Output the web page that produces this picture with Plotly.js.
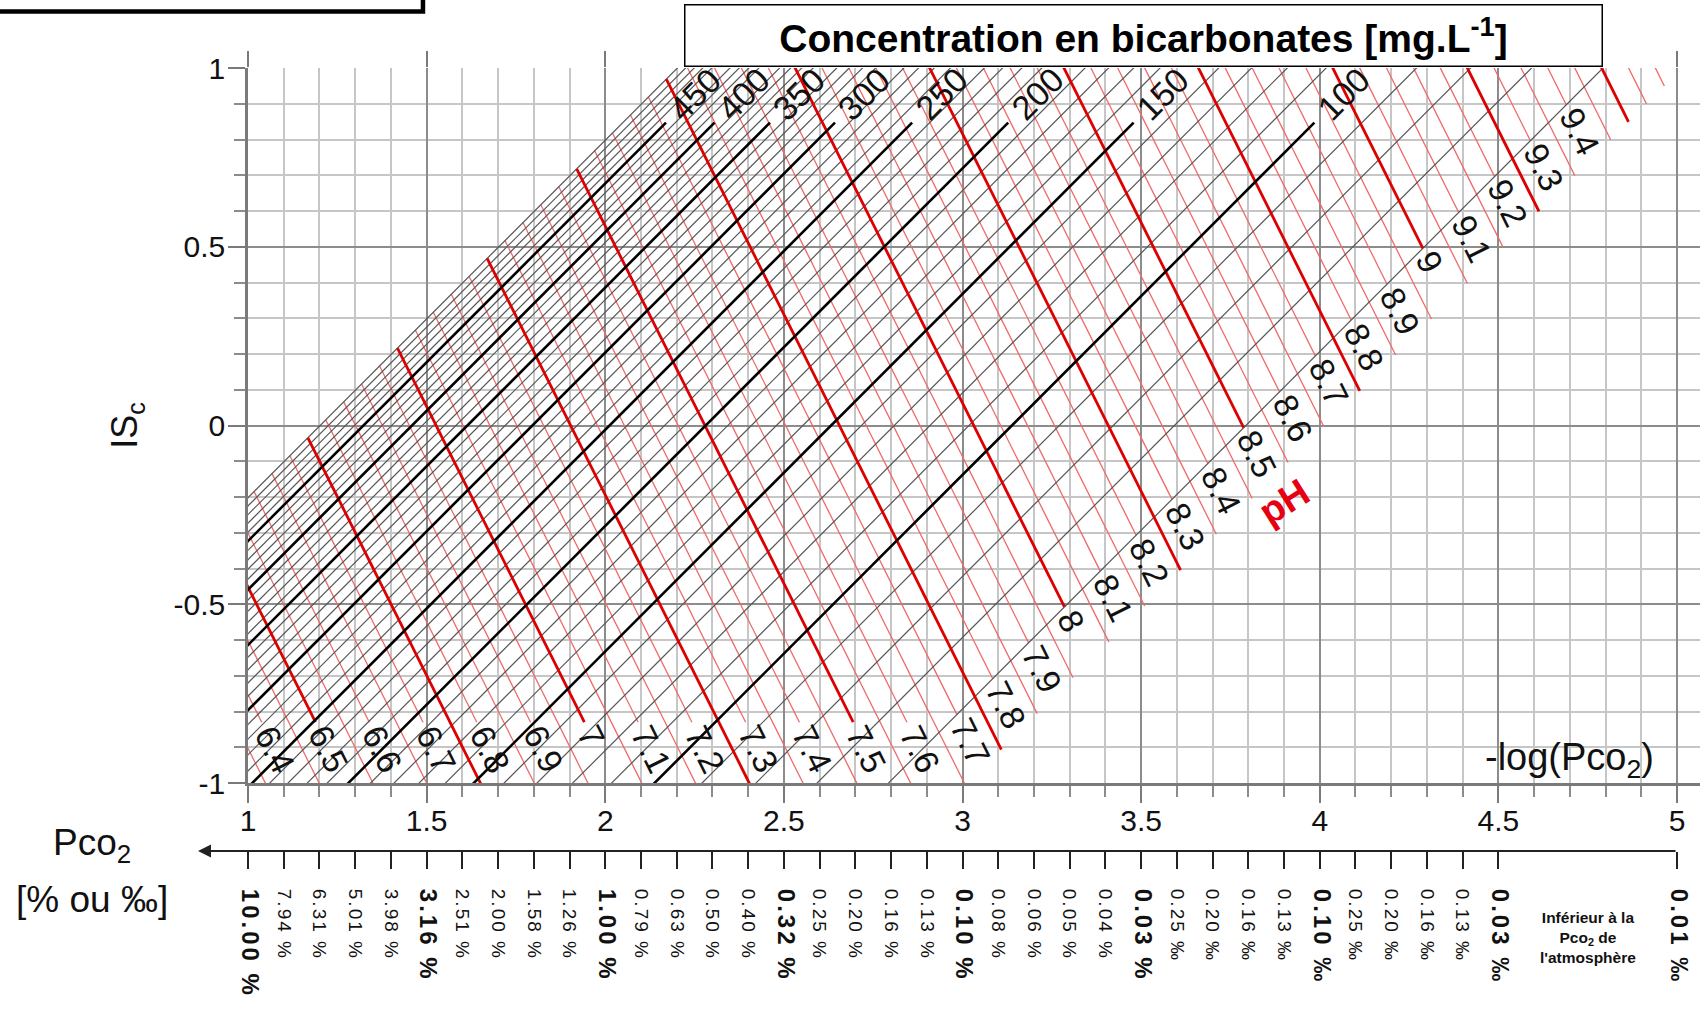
<!DOCTYPE html>
<html>
<head>
<meta charset="utf-8">
<script src="https://cdn.plot.ly/plotly-3.0.1.min.js"></script>
<style>html,body{margin:0;padding:0;background:#fff;}</style>
</head>
<body>
<div id="chart" style="width:1700px;height:1010px;"></div>
<script>
// ---------------- DATA ----------------
// Bicarbonate isolines [mg/L]: ISc = -log(Pco2) + intercept
const hco3Conc = [60,70,80,90,100,110,120,130,140,150,160,170,180,190,200,210,220,230,240,250,
  260,270,280,290,300,310,320,330,340,350,360,370,380,390,400,410,420,430,440,450,460,470,480,490,500];
const hco3Intercept = [-3.793,-3.593,-3.422,-3.271,-3.138,-3.018,-2.909,-2.809,-2.717,-2.632,
  -2.553,-2.479,-2.409,-2.343,-2.281,-2.222,-2.166,-2.112,-2.061,-2.012,
  -1.966,-1.921,-1.877,-1.836,-1.796,-1.757,-1.720,-1.683,-1.648,-1.614,
  -1.582,-1.550,-1.519,-1.488,-1.459,-1.430,-1.402,-1.375,-1.349,-1.323,
  -1.298,-1.273,-1.249,-1.225,-1.202];
const hco3Slope = 1;
const hco3Thick = [100,150,200,250,300,350,400,450];
const hco3LabelText = ['100','150','200','250','300','350','400','450'];
const hco3ThickEndISc = 0.847;          // ISc where the bold isolines stop (labels follow)

// pH isolines: ISc = -2 * (-log Pco2) + intercept
const pHValues = [6.30,6.35,6.40,6.45,6.50,6.55,6.60,6.65,6.70,6.75,6.80,6.85,6.90,6.95,
  7.00,7.05,7.10,7.15,7.20,7.25,7.30,7.35,7.40,7.45,7.50,7.55,7.60,7.65,7.70,7.75,7.80,7.85,7.90,7.95,
  8.00,8.05,8.10,8.15,8.20,8.25,8.30,8.35,8.40,8.45,8.50,8.55,8.60,8.65,8.70,8.75,8.80,8.85,8.90,8.95,
  9.00,9.05,9.10,9.15,9.20,9.25,9.30,9.35,9.40,9.45,9.50,9.55,9.60];
const pHIntercept = [0.946,1.097,1.247,1.398,1.548,1.699,1.849,2.000,2.150,2.301,2.451,2.602,2.752,2.903,
  3.053,3.204,3.354,3.505,3.655,3.806,3.956,4.107,4.257,4.408,4.558,4.709,4.859,5.010,5.160,5.311,5.461,5.612,5.762,5.913,
  6.063,6.214,6.364,6.515,6.665,6.816,6.966,7.117,7.267,7.418,7.568,7.719,7.869,8.020,8.170,8.321,8.471,8.622,8.772,8.923,
  9.073,9.224,9.374,9.525,9.675,9.826,9.976,10.127,10.277,10.428,10.578,10.729,10.879];
const pHSlope = -2;
const pHThick = [6.5,6.75,7.0,7.25,7.5,7.75,8.0,8.25,8.5,8.75,9.0,9.25,9.5];
const pHLabelValues = [6.4,6.5,6.6,6.7,6.8,6.9,7.0,7.1,7.2,7.3,7.4,7.5,7.6,7.7,7.8,7.9,
  8.0,8.1,8.2,8.3,8.4,8.5,8.6,8.7,8.8,8.9,9.0,9.1,9.2,9.3,9.4];
const pHLabelText = ['6.4','6.5','6.6','6.7','6.8','6.9','7','7.1','7.2','7.3','7.4','7.5','7.6','7.7','7.8','7.9',
  '8','8.1','8.2','8.3','8.4','8.5','8.6','8.7','8.8','8.9','9','9.1','9.2','9.3','9.4'];
const pHStartIntercept = -1.202;   // pH lines start on the 500 mg/L isoline
const pHLabelIntercept = -3.793;   // labelled pH lines stop on the 60 mg/L isoline
const pHEndIntercept = -4.015;     // other pH lines stop on this isoline
const pHBottomLabelISc = -0.83;    // labelled pH lines stop here at the bottom

// Main axes tick labels
const yTickVals = [-1, -0.5, 0, 0.5, 1];
const yTickText = ['-1', '-0.5', '0', '0.5', '1'];

// Pco2 scale under the chart
const pco2TickVals = [1.0,1.1,1.2,1.3,1.4,1.5,1.6,1.7,1.8,1.9,2.0,2.1,2.2,2.3,2.4,2.5,2.6,2.7,2.8,2.9,
  3.0,3.1,3.2,3.3,3.4,3.5,3.6,3.7,3.8,3.9,4.0,4.1,4.2,4.3,4.4,4.5,5.0];
const pco2TickText = ['10.00 %','7.94 %','6.31 %','5.01 %','3.98 %','3.16 %','2.51 %','2.00 %','1.58 %','1.26 %',
  '1.00 %','0.79 %','0.63 %','0.50 %','0.40 %','0.32 %','0.25 %','0.20 %','0.16 %','0.13 %',
  '0.10 %','0.08 %','0.06 %','0.05 %','0.04 %','0.03 %','0.25 ‰','0.20 ‰','0.16 ‰','0.13 ‰',
  '0.10 ‰','0.25 ‰','0.20 ‰','0.16 ‰','0.13 ‰','0.03 ‰','0.01 ‰'];
const pco2Bold = [1.0,1.5,2.0,2.5,3.0,3.5,4.0,4.5,5.0];

// ---------------- BUILD ----------------
const FONT = 'Liberation Sans, Arial, sans-serif';
const PX_PER_UNIT = 357.25;
const near = (arr, v) => arr.findIndex(a => Math.abs(a - v) < 1e-6);

const thinBlack = {x: [], y: []}, thickBlack = {x: [], y: []};
const thinRed = {x: [], y: []}, thickRed = {x: [], y: []};
const annotations = [];

hco3Conc.forEach((c, i) => {
  const b = hco3Intercept[i];
  const k = near(hco3Thick, c);
  const yTop = k >= 0 ? hco3ThickEndISc : 1.3;
  const yBot = -1.3;
  const t = k >= 0 ? thickBlack : thinBlack;
  t.x.push((yBot - b) / hco3Slope, (yTop - b) / hco3Slope, null);
  t.y.push(yBot, yTop, null);
  if (k >= 0) {
    const xe = (yTop - b) / hco3Slope;
    const off = 41 / PX_PER_UNIT / Math.SQRT2;
    annotations.push({x: xe + off, y: yTop + off, xref: 'x', yref: 'y', text: hco3LabelText[k],
      showarrow: false, textangle: -45, xanchor: 'center', yanchor: 'middle',
      font: {family: FONT, size: 34, color: '#111'}});
  }
});

const S = hco3Slope - pHSlope;
const dn = Math.sqrt(1 + pHSlope * pHSlope);
const ux = 1 / dn, uy = pHSlope / dn;
const pHAngle = Math.atan(-pHSlope) * 180 / Math.PI;

pHValues.forEach((p, i) => {
  const d = pHIntercept[i];
  const x0 = (d - pHStartIntercept) / S, y0 = hco3Slope * x0 + pHStartIntercept;
  const li = near(pHLabelValues, p);
  let x1, y1;
  if (li >= 0) {
    x1 = (d - pHLabelIntercept) / S; y1 = hco3Slope * x1 + pHLabelIntercept;
    if (y1 < pHBottomLabelISc) { y1 = pHBottomLabelISc; x1 = (y1 - d) / pHSlope; }
    const txt = pHLabelText[li];
    const fs = 34;
    let w = 0; for (const ch of txt) w += (ch === '.' ? 0.278 : 0.556) * fs;
    const off = (w / 2 + 6) / PX_PER_UNIT;
    annotations.push({x: x1 + ux * off, y: y1 + uy * off, xref: 'x', yref: 'y', text: txt,
      showarrow: false, textangle: pHAngle, xanchor: 'center', yanchor: 'middle',
      font: {family: FONT, size: fs, color: '#111'}});
  } else {
    x1 = (d - pHEndIntercept) / S; y1 = hco3Slope * x1 + pHEndIntercept;
  }
  const t = near(pHThick, p) >= 0 ? thickRed : thinRed;
  t.x.push(x0, x1, null); t.y.push(y0, y1, null);
});

const lineTrace = (o, color, width) => ({x: o.x, y: o.y, type: 'scatter', mode: 'lines',
  line: {color: color, width: width}, hoverinfo: 'skip', showlegend: false, connectgaps: false});

const data = [
  lineTrace(thinRed, '#ee6a6a', 1.3),
  lineTrace(thinBlack, '#555555', 1.2),
  lineTrace(thickRed, '#dc0000', 2.8),
  lineTrace(thickBlack, '#000000', 2.6),
  {x: [1, 5], y: [0, 0], xaxis: 'x2', yaxis: 'y', type: 'scatter', mode: 'markers',
    marker: {opacity: 0}, hoverinfo: 'skip', showlegend: false},
  {x: [1, 5], y: [0, 0], xaxis: 'x3', yaxis: 'y', type: 'scatter', mode: 'markers',
    marker: {opacity: 0}, hoverinfo: 'skip', showlegend: false}
];

const pco2Text = pco2TickText.map((t, i) => near(pco2Bold, pco2TickVals[i]) >= 0
  ? '<b><span style="font-size:24px;letter-spacing:3px">' + t + '</span></b>'
  : '<span style="font-size:19px;letter-spacing:2px">' + t + '</span>');

// labels / annotations
annotations.push(
  {xref: 'paper', yref: 'paper', x: 0.6164, y: 1.0409, xanchor: 'center', yanchor: 'middle',
    text: '<b>Concentration en bicarbonates [mg.L<sup>-1</sup>]</b>', showarrow: false,
    width: 912, height: 56, bgcolor: '#fff', bordercolor: '#000', borderwidth: 1.5, borderpad: 2,
    font: {family: FONT, size: 39, color: '#000'}},
  {xref: 'x', yref: 'y', x: 3.90, y: -0.215, text: '<b>pH</b>', showarrow: false, textangle: -32,
    xanchor: 'center', yanchor: 'middle',
    font: {family: FONT, size: 38, color: '#e60012'}},
  {xref: 'x', yref: 'y', x: 4.70, y: -0.935, text: '-log(Pco<sub>2</sub>)', showarrow: false,
    xanchor: 'center', yanchor: 'middle',
    font: {family: FONT, size: 38, color: '#111'}},
  {xref: 'paper', yref: 'paper', x: -0.1074, y: 0.008, text: 'Pco<sub>2</sub>', showarrow: false,
    xanchor: 'center', yanchor: 'middle',
    font: {family: FONT, size: 37, color: '#111'}},
  {xref: 'paper', yref: 'paper', x: -0.1074, y: -0.062, text: '[% ou ‰]', showarrow: false,
    xanchor: 'center', yanchor: 'middle',
    font: {family: FONT, size: 37, color: '#111'}},
  {xref: 'x', yref: 'paper', x: 4.751, y: -0.111, text: '<b>Inférieur à la<br>Pco<sub>2</sub> de<br>l\'atmosphère</b>',
    showarrow: false, xanchor: 'center', yanchor: 'middle',
    font: {family: FONT, size: 15.5, color: '#111'}},
  {xref: 'x', yref: 'paper', x: 0.86, y: 0, axref: 'x', ax: 5, ayref: 'pixel', ay: 0, text: '',
    showarrow: true, arrowhead: 2, arrowsize: 1.3, arrowwidth: 2, arrowcolor: '#222'}
);

const xRange = [1, 5.0644];
const layout = {
  width: 1700, height: 1010,
  margin: {l: 248, r: 0, t: 68, b: 159, pad: 0},
  paper_bgcolor: '#fff', plot_bgcolor: '#fff',
  font: {family: FONT, color: '#111'},
  showlegend: false,
  xaxis: {domain: [0, 1], range: xRange, anchor: 'y', tick0: 1, dtick: 0.5,
    ticks: 'outside', ticklen: 17, tickwidth: 2, tickcolor: '#7a7a7a', ticklabelstandoff: -8,
    showgrid: true, gridcolor: '#8c8c8c', gridwidth: 2.2, zeroline: false,
    showline: true, linecolor: '#7a7a7a', linewidth: 2.5,
    tickfont: {family: FONT, size: 30, color: '#111'},
    minor: {tick0: 1, dtick: 0.1, ticks: 'outside', ticklen: 11, tickwidth: 1.5, tickcolor: '#8c8c8c',
      showgrid: true, gridcolor: '#c6c6c6', gridwidth: 1.5}},
  xaxis2: {overlaying: 'x', side: 'top', anchor: 'y', range: xRange, tick0: 1, dtick: 0.5,
    ticks: 'outside', ticklen: 16, tickwidth: 2, tickcolor: '#7a7a7a',
    showticklabels: false, showgrid: false, zeroline: false, showline: false},
  xaxis3: {overlaying: 'x', side: 'bottom', anchor: 'free', position: 0, range: xRange,
    tickmode: 'array', tickvals: pco2TickVals, ticktext: pco2Text, tickangle: 90,
    ticks: 'outside', ticklen: 17, tickwidth: 1.5, tickcolor: '#222', ticklabelstandoff: 16,
    showgrid: false, zeroline: false, showline: false,
    tickfont: {family: FONT, size: 19, color: '#111'}},
  yaxis: {domain: [0.086845, 1], range: [-1, 1], anchor: 'x',
    tickmode: 'array', tickvals: yTickVals, ticktext: yTickText,
    ticks: 'outside', ticklen: 17, tickwidth: 2, tickcolor: '#7a7a7a', ticklabelstandoff: -3,
    showgrid: true, gridcolor: '#8c8c8c', gridwidth: 2.2, zeroline: false,
    showline: true, linecolor: '#7a7a7a', linewidth: 2.5,
    tickfont: {family: FONT, size: 30, color: '#111'},
    title: {text: 'IS<sub>c</sub>', font: {family: FONT, size: 36, color: '#111'}, standoff: 25},
    minor: {tick0: 0, dtick: 0.1, ticks: 'outside', ticklen: 11, tickwidth: 1.5, tickcolor: '#8c8c8c',
      showgrid: true, gridcolor: '#c6c6c6', gridwidth: 1.5}},
  annotations: annotations,
  shapes: [
    {type: 'rect', xref: 'paper', yref: 'paper', x0: -0.178, x1: 0.1205, y0: 1.0721, y1: 1.25,
      line: {color: '#000', width: 4.5}, fillcolor: 'rgba(0,0,0,0)'}
  ]
};

Plotly.newPlot('chart', data, layout, {displayModeBar: false, responsive: false});
</script>
</body>
</html>
